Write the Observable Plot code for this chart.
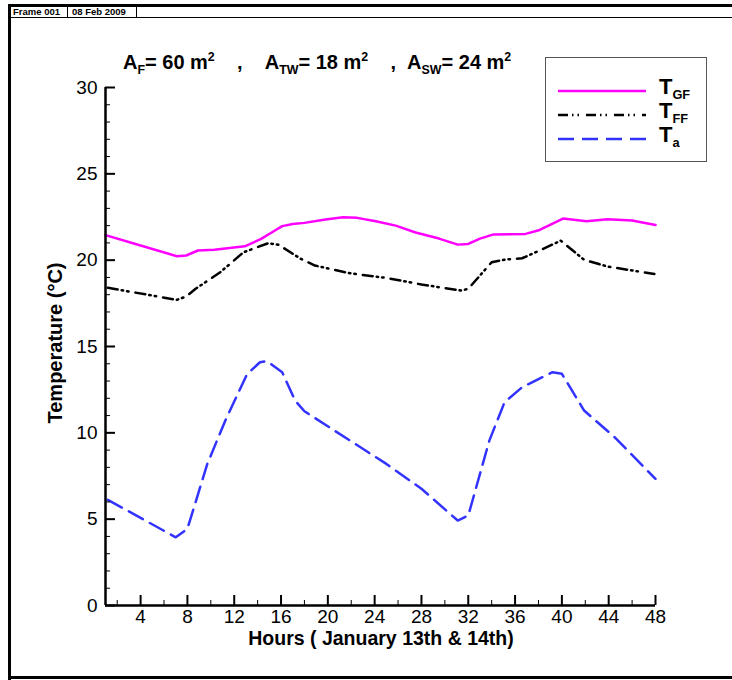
<!DOCTYPE html>
<html>
<head>
<meta charset="utf-8">
<script src="https://cdn.jsdelivr.net/npm/d3@7"></script>
<script src="https://cdn.jsdelivr.net/npm/@observablehq/plot@0.6"></script>
<style>
  html, body { margin: 0; padding: 0; background: #fff; }
  #wrap { position: relative; width: 732px; height: 680px; overflow: hidden; font-family: "Liberation Sans", Arial, sans-serif; }
  #chart { position: absolute; left: 0; top: 0; }
  .abs { position: absolute; white-space: nowrap; }
  sub, sup { font-size: 62%; line-height: 0; }
</style>
</head>
<body>
<div id="wrap">
  <div id="chart"></div>
</div>
<script>
// ---- data ----
const tgfHours = [1, 4, 7.1, 7.9, 8.9, 10.3, 12.9, 14.3, 15.2, 16.1, 17, 18, 19.8, 21.3, 22.5, 24.1, 25.8, 27.5, 29.5, 31.1, 32, 33, 34.1, 36.9, 38.1, 40.1, 42.1, 43.9, 46, 48];
const tgfTemps = [21.45, 20.85, 20.23, 20.27, 20.56, 20.6, 20.8, 21.23, 21.6, 21.97, 22.1, 22.16, 22.35, 22.49, 22.45, 22.25, 22.0, 21.6, 21.25, 20.9, 20.94, 21.25, 21.48, 21.52, 21.75, 22.41, 22.25, 22.37, 22.3, 22.04];

const tffHours = [1.2, 7.1, 7.9, 8.7, 10.8, 12.8, 14.9, 15.8, 17.7, 18.9, 21.9, 25, 28, 31.4, 32, 34, 35.1, 36.6, 38.4, 39.9, 41.9, 43.9, 47.9];
const tffTemps = [18.4, 17.7, 17.9, 18.34, 19.3, 20.46, 20.98, 20.89, 20.07, 19.69, 19.24, 18.97, 18.59, 18.24, 18.34, 19.88, 20.03, 20.11, 20.65, 21.13, 20.02, 19.63, 19.2];

const taHours = [1.2, 7, 8, 9.7, 11.3, 13.1, 14.2, 14.8, 16.1, 17.2, 18, 21.9, 25, 28, 31.1, 32, 33.8, 35.1, 36.6, 39.2, 40, 41.9, 44.5, 48];
const taTemps = [6.12, 3.95, 4.44, 8.2, 10.81, 13.4, 14.09, 14.15, 13.51, 11.87, 11.25, 9.55, 8.2, 6.76, 4.92, 5.21, 9.55, 11.77, 12.64, 13.51, 13.42, 11.29, 9.75, 7.34];

const seriesNames = ["T_GF", "T_FF", "T_a"];
const xMajorTicks = [4, 8, 12, 16, 20, 24, 28, 32, 36, 40, 44, 48];
const xMinorTicks = [2, 6, 10, 14, 18, 22, 26, 30, 34, 38, 42, 46];
const yMajorTicks = [0, 5, 10, 15, 20, 25, 30];
const yMinorTicks = d3.range(0, 31).filter(v => v % 5 !== 0);

const xLabel = "Hours ( January 13th & 14th)";
const yLabel = "Temperature (°C)";

// ---- build ----
const toRows = (hs, ts) => hs.map((h, i) => ({h, t: ts[i]}));
const tgf = toRows(tgfHours, tgfTemps);
const tff = toRows(tffHours, tffTemps);
const ta = toRows(taHours, taTemps);

const FONT = "'Liberation Sans', Arial, sans-serif";
const DASH_FF = "10,4,1.5,4,1.5,7";
const DASH_A = "16,8";

const chart = Plot.plot({
  width: 732,
  height: 680,
  marginLeft: 105,
  marginRight: 77,
  marginTop: 87,
  marginBottom: 75,
  style: { fontFamily: FONT, fontSize: "19px", color: "#000", background: "transparent", overflow: "visible" },
  x: { domain: [1, 48], ticks: xMajorTicks, tickSize: 0, tickPadding: 4, label: null },
  y: { domain: [0, 30], ticks: yMajorTicks, tickSize: 0, tickPadding: 8, label: null },
  marks: [
    Plot.line(ta, {x: "h", y: "t", stroke: "#3333ff", strokeWidth: 2.5, strokeDasharray: DASH_A}),
    Plot.line(tff, {x: "h", y: "t", stroke: "#000", strokeWidth: 2.5, strokeDasharray: DASH_FF}),
    Plot.line(tgf, {x: "h", y: "t", stroke: "#ff00ff", strokeWidth: 2.5}),
    Plot.ruleX(xMajorTicks, {x: d => d, y1: 0, y2: 0, insetTop: -10, stroke: "#000", strokeWidth: 2}),
    Plot.ruleX(xMinorTicks, {x: d => d, y1: 0, y2: 0, insetTop: -5, stroke: "#000", strokeWidth: 1}),
    Plot.ruleY(yMajorTicks, {y: d => d, x1: 1, x2: 1, insetRight: -10, stroke: "#000", strokeWidth: 2}),
    Plot.ruleY(yMinorTicks, {y: d => d, x1: 1, x2: 1, insetRight: -5, stroke: "#000", strokeWidth: 1}),
    Plot.ruleX([1], {stroke: "#000", strokeWidth: 2.5}),
    Plot.ruleY([0], {stroke: "#000", strokeWidth: 2.5})
  ]
});
document.getElementById("chart").appendChild(chart);

const wrap = document.getElementById("wrap");
function addDiv(html, css, parent = wrap) {
  const d = document.createElement("div");
  d.className = "abs";
  d.innerHTML = html;
  Object.assign(d.style, css);
  parent.appendChild(d);
  return d;
}

// outer frame
addDiv("", {left: "9px", top: "4px", width: "723px", height: "0", borderTop: "3px solid #000"});
addDiv("", {left: "9px", top: "17px", width: "723px", height: "0", borderTop: "1px solid #000"});
addDiv("", {left: "8px", top: "4px", width: "3px", height: "676px", background: "#000"});
addDiv("", {left: "8px", top: "676px", width: "724px", height: "3px", background: "#000"});
addDiv("", {left: "67px", top: "5px", width: "1px", height: "13px", background: "#000"});
addDiv("", {left: "136px", top: "5px", width: "1px", height: "13px", background: "#000"});
addDiv("Frame 001", {left: "13px", top: "6px", fontSize: "9.5px", fontWeight: "bold", lineHeight: "11px"});
addDiv("08 Feb 2009", {left: "72px", top: "6px", fontSize: "9.5px", fontWeight: "bold", lineHeight: "11px"});

// title
addDiv(
  "A<sub>F</sub>= 60 m<sup>2</sup>&nbsp;&nbsp;&nbsp;&nbsp;,&nbsp;&nbsp;&nbsp;&nbsp;A<sub>TW</sub>= 18 m<sup>2</sup>&nbsp;&nbsp;&nbsp;&nbsp;,&nbsp;&nbsp;A<sub>SW</sub>= 24 m<sup>2</sup>",
  {left: "123px", top: "50px", fontSize: "20px", fontWeight: "bold", lineHeight: "24px"}
);

// axis titles
addDiv(xLabel, {left: "381px", top: "629px", transform: "translateX(-50%)", fontSize: "19.5px", fontWeight: "bold", lineHeight: "19px"});
addDiv(yLabel, {left: "55px", top: "343px", transform: "translate(-50%,-50%) rotate(-90deg)", fontSize: "20px", fontWeight: "bold", lineHeight: "20px"});

// legend
const legend = addDiv("", {left: "545px", top: "57px", width: "160px", height: "103px", border: "1.5px solid #555", background: "#fff"});
const legItems = [
  {name: seriesNames[0], stroke: "#ff00ff", dash: null, y: 33},
  {name: seriesNames[1], stroke: "#000", dash: DASH_FF, y: 57},
  {name: seriesNames[2], stroke: "#3333ff", dash: DASH_A, y: 81}
];
legItems.forEach(it => {
  const svg = d3.create("svg").attr("width", 100).attr("height", 10)
    .style("position", "absolute").style("left", "10px").style("top", (it.y - 5) + "px");
  svg.append("line").attr("x1", 2).attr("x2", 90).attr("y1", 5).attr("y2", 5)
    .attr("stroke", it.stroke).attr("stroke-width", 2.5)
    .attr("stroke-dasharray", it.dash);
  legend.appendChild(svg.node());
  const [main, sub] = it.name.split("_");
  addDiv(`${main}<sub style="font-size:58%">${sub}</sub>`,
    {left: "113px", top: (it.y - 15) + "px", fontSize: "22px", fontWeight: "bold", lineHeight: "22px"}, legend);
});
</script>
</body>
</html>
